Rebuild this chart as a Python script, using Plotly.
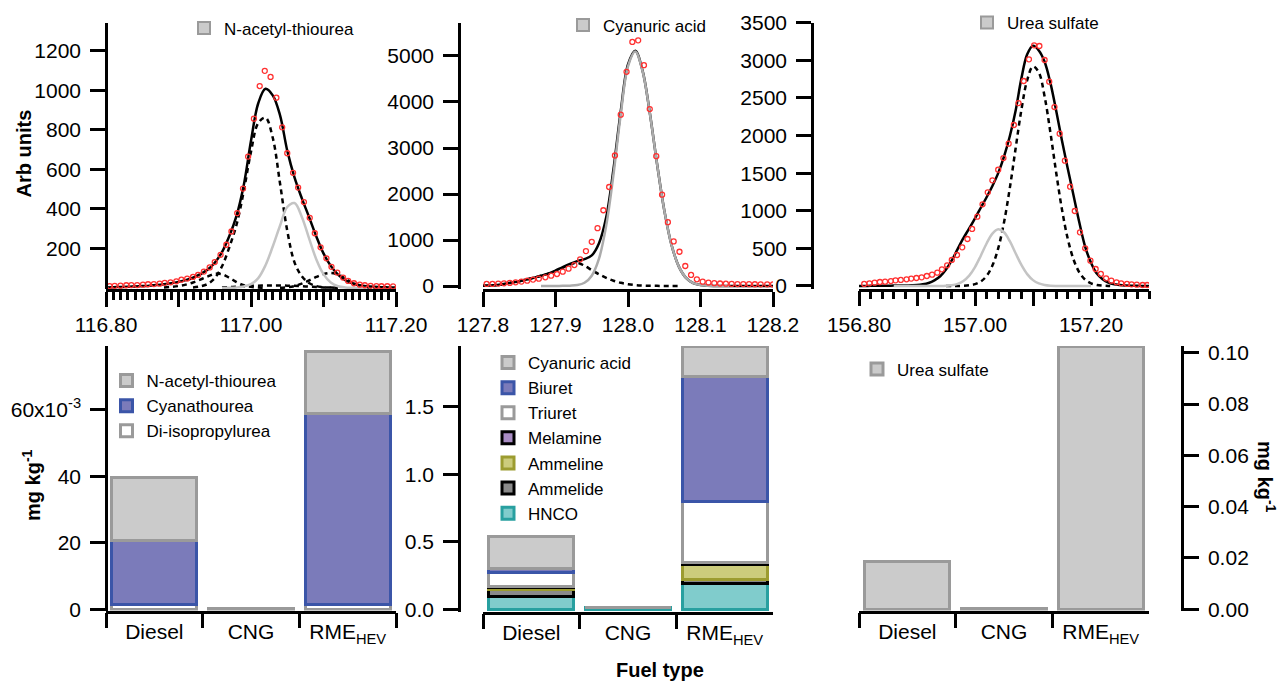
import plotly.graph_objects as go

W, H = 1288, 681

# ---------------- Top row: spectra (Arb units) ----------------
# Panel 1: N-acetyl-thiourea region
P1_MZ = [116.805, 116.812, 116.820, 116.828, 116.835, 116.843, 116.851, 116.858, 116.866, 116.874,
         116.881, 116.889, 116.897, 116.904, 116.912, 116.920, 116.927, 116.935, 116.943, 116.950,
         116.958, 116.966, 116.973, 116.981, 116.989, 116.996, 117.004, 117.012, 117.019, 117.027,
         117.035, 117.043, 117.050, 117.058, 117.065, 117.073, 117.081, 117.088, 117.096, 117.104,
         117.111, 117.119, 117.127, 117.134, 117.142, 117.150, 117.157, 117.165, 117.173, 117.180,
         117.188, 117.196]
P1_SIGNAL = [10, 11, 12, 14, 15, 15, 17, 19, 20, 22,
             26, 29, 34, 42, 48, 56, 66, 83, 104, 131,
             168, 219, 286, 379, 503, 665, 857, 1022, 1099, 1068,
             963, 813, 682, 583, 508, 435, 355, 277, 206, 150,
             107, 78, 53, 36, 24, 17, 14, 11, 10, 9,
             9, 8]
P1_GRID = [116.80, 116.81, 116.82, 116.83, 116.84, 116.85, 116.86, 116.87, 116.88, 116.89,
           116.90, 116.91, 116.92, 116.93, 116.94, 116.95, 116.96, 116.97, 116.98, 116.99,
           117.00, 117.01, 117.02, 117.03, 117.04, 117.05, 117.06, 117.07, 117.08, 117.09,
           117.10, 117.11, 117.12, 117.13, 117.14, 117.15, 117.16, 117.17, 117.18, 117.19,
           117.20]
P1_FIT = [3, 4, 5, 6, 8, 10, 12, 15, 19, 24,
          31, 40, 52, 70, 92, 128, 182, 262, 365, 520,
          745, 935, 1008, 975, 875, 695, 560, 455, 360, 262,
          175, 112, 68, 40, 24, 14, 9, 6, 4, 3,
          2]
P1_PEAK_MAIN = [3, 8, 20, 50, 110, 205, 320, 490, 690, 835, 862, 760, 530, 290, 130, 60, 25, 10, 4, 2, 1]   # 116.92-117.12
P1_PEAK_LEFT = [3, 6, 10, 17, 28, 42, 58, 72, 70, 52, 30, 14, 6, 2, 1]                                    # 116.88-117.02
P1_PEAK_RIGHT = [1, 4, 10, 22, 38, 56, 70, 76, 68, 48, 26, 11, 4, 2, 1]                                   # 117.04-117.18
P1_PEAK_FLAT = [2, 4, 7, 9, 11, 12, 13, 13, 13, 12, 11, 9, 7, 5, 3, 2, 1]                                 # 116.96-117.12
P1_COMPOUND = [0, 1, 3, 8, 20, 50, 115, 210, 315, 410, 430, 361, 252, 146, 70, 28, 9, 3, 1, 0, 0]        # 116.96-117.16

# Panel 2: Cyanuric acid region
P2_MZ = [127.805, 127.813, 127.821, 127.829, 127.837, 127.845, 127.853, 127.861, 127.869, 127.877,
         127.886, 127.894, 127.902, 127.910, 127.918, 127.926, 127.934, 127.942, 127.950, 127.958,
         127.966, 127.974, 127.982, 127.990, 127.998, 128.006, 128.014, 128.022, 128.030, 128.039,
         128.047, 128.055, 128.063, 128.071, 128.079, 128.087, 128.095, 128.103, 128.111, 128.119,
         128.127, 128.135, 128.143, 128.151, 128.159, 128.167, 128.175, 128.183, 128.192, 128.200]
P2_SIGNAL = [45, 45, 52, 59, 67, 81, 96, 117, 139, 160,
             189, 225, 261, 312, 377, 456, 579, 759, 961, 1257,
             1647, 2152, 2837, 3725, 4656, 5305, 5340, 4800, 3847, 2823,
             1986, 1387, 969, 745, 435, 240, 146, 95, 75, 62,
             55, 50, 46, 43, 41, 40, 38, 37, 36, 35]
P2_GRID = [127.80, 127.81, 127.82, 127.83, 127.84, 127.85, 127.86, 127.87, 127.88, 127.89,
           127.90, 127.91, 127.92, 127.93, 127.94, 127.95, 127.96, 127.97, 127.98, 127.99,
           128.00, 128.01, 128.02, 128.03, 128.04, 128.05, 128.06, 128.07, 128.08, 128.09,
           128.10, 128.11, 128.12, 128.13, 128.14, 128.15, 128.16, 128.17, 128.18, 128.19,
           128.20]
P2_FIT = [5, 10, 22, 45, 75, 105, 140, 180, 222, 270,
          335, 410, 480, 540, 585, 665, 930, 1500, 2545, 3800,
          4815, 5115, 4686, 3771, 2663, 1650, 895, 427, 178, 65,
          21, 6, 2, 1, 0, 0, 0, 0, 0, 0,
          0]
P2_PEAK_SIDE = [5, 10, 22, 45, 75, 105, 140, 180, 222, 268,
                325, 395, 470, 505, 440, 345, 255, 178, 115, 70,
                40, 20, 10, 5, 3, 2, 1, 1]                                                               # 127.80-128.07
P2_COMPOUND = [0, 1, 2, 4, 8, 20, 70, 224, 595, 1318,
               2429, 3731, 4774, 5095, 4676, 3766, 2660, 1648, 894, 426,
               178, 65, 21, 6, 2, 1, 0]                                                                 # 127.88-128.14

# Panel 3: Urea sulfate region
P3_MZ = [156.809, 156.818, 156.827, 156.836, 156.845, 156.855, 156.863, 156.872, 156.882, 156.890,
         156.899, 156.908, 156.917, 156.926, 156.935, 156.943, 156.952, 156.960, 156.969, 156.978,
         156.987, 156.995, 157.004, 157.013, 157.022, 157.030, 157.040, 157.049, 157.058, 157.067,
         157.075, 157.084, 157.093, 157.102, 157.111, 157.120, 157.128, 157.137, 157.146, 157.155,
         157.164, 157.172, 157.181, 157.190, 157.199, 157.208, 157.217, 157.226, 157.235, 157.244,
         157.252, 157.262, 157.270, 157.279, 157.289, 157.297]
P3_SIGNAL = [27, 35, 44, 53, 58, 66, 75, 80, 89, 98,
             106, 115, 133, 151, 177, 221, 275, 346, 412, 514,
             625, 758, 922, 1086, 1245, 1404, 1546, 1701, 1892, 2140,
             2432, 2725, 3013, 3199, 3190, 3004, 2716, 2379, 2025, 1666,
             1320, 997, 713, 501, 337, 226, 160, 102, 71, 49,
             35, 27, 22, 18, 13, 13]
P3_GRID = [156.80, 156.81, 156.82, 156.83, 156.84, 156.85, 156.86, 156.87, 156.88, 156.89,
           156.90, 156.91, 156.92, 156.93, 156.94, 156.95, 156.96, 156.97, 156.98, 156.99,
           157.00, 157.01, 157.02, 157.03, 157.04, 157.05, 157.06, 157.07, 157.08, 157.09,
           157.10, 157.11, 157.12, 157.13, 157.14, 157.15, 157.16, 157.17, 157.18, 157.19,
           157.20, 157.21, 157.22, 157.23, 157.24, 157.25, 157.26, 157.27, 157.28, 157.29,
           157.30]
P3_FIT = [1, 1, 2, 2, 3, 4, 5, 6, 7, 9,
          12, 22, 40, 75, 130, 220, 340, 490, 635, 765,
          900, 1040, 1180, 1330, 1500, 1720, 1990, 2330, 2760, 3080,
          3195, 3130, 2980, 2700, 2330, 1930, 1560, 1200, 840, 520,
          310, 165, 90, 45, 22, 12, 7, 4, 2, 1,
          0]
P3_PEAK_MAIN = [0, 0, 1, 3, 9, 25, 60, 133, 271, 500,
                845, 1301, 1827, 2342, 2737, 2919, 2840, 2520, 2040, 1506,
                1015, 624, 350, 179, 84, 36, 14, 5, 1, 0]                                                # 156.95-157.24
P3_COMPOUND = [0, 0, 0, 0, 0, 0, 0, 0, 0, 3,
               10, 28, 67, 138, 252, 403, 565, 696, 753, 714,
               595, 435, 280, 158, 78, 34, 13, 4, 1, 0,
               0, 0, 0, 0, 0]                                                                            # 156.86-157.20

# ---------------- Bottom row: concentrations (mg kg-1) ----------------
FUEL = ["Diesel", "CNG", "RME<sub>HEV</sub>"]
DI_ISOPROPYLUREA = [0.0015, 0.0003, 0.0015]
CYANATHOUREA = [0.0193, 0.0, 0.0574]
N_ACETYL_THIOUREA = [0.0189, 0.0, 0.0186]

HNCO = [0.093, 0.010, 0.195]
AMMELIDE = [0.055, 0.0, 0.025]
AMMELINE = [0.012, 0.0, 0.113]
MELAMINE = [0.006, 0.0, 0.015]
TRIURET = [0.110, 0.0, 0.455]
BIURET = [0.030, 0.0, 0.920]
CYANURIC_ACID = [0.232, 0.0, 0.225]

UREA_SULFATE = [0.0186, 0.0004, 0.1025]

# ---------------- styles ----------------
STYLE = {
    "gray": ("#cbcbcb", "#9a9a9a"),
    "blue": ("#7b7bba", "#3b55a8"),
    "white": ("#ffffff", "#9a9a9a"),
    "melamine": ("#a98cc4", "#000000"),
    "ammeline": ("#cccc7c", "#9c9c30"),
    "ammelide": ("#8a8a8a", "#000000"),
    "hnco": ("#80cccc", "#28a0a0"),
}
FIT_COLOR = "#000000"
COMP_COLOR = "#c4c4c4"
DATA_COLOR = "#ff3030"
FONT = "Liberation Sans, Arial, Helvetica, sans-serif"

fig = go.Figure()


def spectrum(xa, ya, grid, fit, comps, comp_mz, compound, signal_mz, signal, comp_color, legend, name):
    fig.add_trace(go.Scatter(x=grid, y=fit, mode="lines", line=dict(color=FIT_COLOR, width=2.5, shape="spline", smoothing=1),
                             xaxis=xa, yaxis=ya, showlegend=False, hoverinfo="skip"))
    for cx, cy in comps:
        fig.add_trace(go.Scatter(x=cx, y=cy, mode="lines",
                                 line=dict(color=FIT_COLOR, width=2.5, dash="5px,4px", shape="spline", smoothing=1),
                                 xaxis=xa, yaxis=ya, showlegend=False, hoverinfo="skip"))
    fig.add_trace(go.Scatter(x=comp_mz, y=compound, mode="lines",
                             line=dict(color=comp_color, width=2.5, shape="spline", smoothing=1),
                             xaxis=xa, yaxis=ya, showlegend=False, hoverinfo="skip"))
    fig.add_trace(go.Scatter(x=signal_mz, y=signal, mode="markers",
                             marker=dict(symbol="circle-open", size=5, color=DATA_COLOR, line=dict(width=1.3, color=DATA_COLOR)),
                             xaxis=xa, yaxis=ya, showlegend=False, hoverinfo="skip"))
    fill, edge = STYLE["gray"]
    fig.add_trace(go.Bar(x=[None], y=[None], name=name, marker=dict(color=fill, line=dict(color=edge, width=2)),
                         xaxis=xa, yaxis=ya, legend=legend, showlegend=True))


spectrum("x", "y", P1_GRID, P1_FIT,
         [(P1_GRID[12:33], P1_PEAK_MAIN), (P1_GRID[8:23], P1_PEAK_LEFT),
          (P1_GRID[24:39], P1_PEAK_RIGHT), (P1_GRID[16:33], P1_PEAK_FLAT)],
         P1_GRID[16:37], P1_COMPOUND, P1_MZ, P1_SIGNAL, COMP_COLOR, "legend", "N-acetyl-thiourea")
spectrum("x2", "y2", P2_GRID, P2_FIT,
         [(P2_GRID[0:28], P2_PEAK_SIDE)],
         P2_GRID[8:35], P2_COMPOUND, P2_MZ, P2_SIGNAL, "#ababab", "legend2", "Cyanuric acid")
spectrum("x3", "y3", P3_GRID, P3_FIT,
         [(P3_GRID[15:45], P3_PEAK_MAIN)],
         P3_GRID[6:41], P3_COMPOUND, P3_MZ, P3_SIGNAL, COMP_COLOR, "legend3", "Urea sulfate")


def bar(xa, ya, values, name, style, legend):
    fill, edge = STYLE[style]
    fig.add_trace(go.Bar(x=FUEL, y=values, name=name, width=0.88, cliponaxis=False,
                         marker=dict(color=fill, line=dict(color=edge, width=3)),
                         xaxis=xa, yaxis=ya, legend=legend, hoverinfo="skip"))


bar("x4", "y4", DI_ISOPROPYLUREA, "Di-isopropylurea", "white", "legend4")
bar("x4", "y4", CYANATHOUREA, "Cyanathourea", "blue", "legend4")
bar("x4", "y4", N_ACETYL_THIOUREA, "N-acetyl-thiourea", "gray", "legend4")

bar("x5", "y5", HNCO, "HNCO", "hnco", "legend5")
bar("x5", "y5", AMMELIDE, "Ammelide", "ammelide", "legend5")
bar("x5", "y5", AMMELINE, "Ammeline", "ammeline", "legend5")
bar("x5", "y5", MELAMINE, "Melamine", "melamine", "legend5")
bar("x5", "y5", TRIURET, "Triuret", "white", "legend5")
bar("x5", "y5", BIURET, "Biuret", "blue", "legend5")
bar("x5", "y5", CYANURIC_ACID, "Cyanuric acid", "gray", "legend5")

bar("x6", "y6", UREA_SULFATE, "Urea sulfate", "gray", "legend6")

# ---------------- axes ----------------
AX = dict(showline=True, linecolor="black", linewidth=2.5, ticks="outside", tickcolor="black",
          tickwidth=2.5, ticklen=15, showgrid=False, zeroline=False, automargin=False,
          tickfont=dict(size=21, color="black", family=FONT), fixedrange=True)
YAX = dict(AX, ticklabelstandoff=5)
CAX = dict(AX, type="category", tickson="boundaries", ticklabelstandoff=1)
MINOR = dict(ticks="outside", ticklen=8, tickwidth=2.5, tickcolor="black", showgrid=False)


def fx(p):
    return p / W


def fy(p):
    return 1 - p / H


TOP_DOM = [fy(289), fy(23)]
COLS = [[fx(106), fx(396)], [fx(483), fx(773)], [fx(859), fx(1149)]]

layout = dict(
    xaxis=dict(AX, domain=COLS[0], anchor="y", range=[116.8, 117.2],
               tickmode="array", tickvals=[116.8, 116.9, 117.0, 117.1, 117.2],
               ticktext=["116.80", "", "117.00", "", "117.20"],
               minor=dict(MINOR, tickmode="linear", tick0=116.8, dtick=0.01)),
    yaxis=dict(YAX, domain=TOP_DOM, anchor="free", position=fx(106), range=[-5, 1341],
               tickmode="array", tickvals=[200, 400, 600, 800, 1000, 1200]),
    xaxis2=dict(AX, domain=COLS[1], anchor="y2", range=[127.8, 128.2],
                tickmode="array", tickvals=[127.8, 127.9, 128.0, 128.1, 128.2],
                ticktext=["127.8", "127.9", "128.0", "128.1", "128.2"]),
    yaxis2=dict(YAX, domain=TOP_DOM, anchor="free", position=fx(459), range=[-65, 5717],
                tickmode="array", tickvals=[0, 1000, 2000, 3000, 4000, 5000]),
    xaxis3=dict(AX, domain=COLS[2], anchor="y3", range=[156.8, 157.3],
                tickmode="array", tickvals=[156.8, 156.9, 157.0, 157.1, 157.2],
                ticktext=["156.80", "", "157.00", "", "157.20"],
                minor=dict(MINOR, tickmode="linear", tick0=156.8, dtick=0.02)),
    yaxis3=dict(YAX, domain=[fy(288.7), fy(22.7)], anchor="free", position=fx(812), range=[-36, 3500],
                tickmode="array", tickvals=[0, 500, 1000, 1500, 2000, 2500, 3000, 3500]),
    xaxis4=dict(CAX, domain=COLS[0], anchor="y4"),
    yaxis4=dict(YAX, domain=[fy(610.5), fy(346)], anchor="free", position=fx(106), range=[-0.00036, 0.0791],
                tickmode="array", tickvals=[0, 0.02, 0.04, 0.06], ticktext=["0", "20", "40", "60x10<sup>-3</sup>"]),
    xaxis5=dict(CAX, domain=COLS[1], anchor="y5"),
    yaxis5=dict(YAX, domain=[fy(611.5), fy(346)], anchor="free", position=fx(459), range=[-0.016, 1.952],
                tickmode="array", tickvals=[0, 0.5, 1.0, 1.5], ticktext=["0.0", "0.5", "1.0", "1.5"]),
    xaxis6=dict(CAX, domain=COLS[2], anchor="y6"),
    yaxis6=dict(YAX, domain=[fy(610.5), fy(346)], anchor="free", position=fx(1182), side="right",
                range=[-0.00047, 0.1026], tickmode="array",
                tickvals=[0, 0.02, 0.04, 0.06, 0.08, 0.10],
                ticktext=["0.00", "0.02", "0.04", "0.06", "0.08", "0.10"]),
)

LEG = dict(xanchor="left", yanchor="top", bgcolor="rgba(0,0,0,0)", borderwidth=0,
           font=dict(size=17, color="black", family=FONT))
layout.update(
    legend=dict(LEG, x=fx(184), y=fy(10.5)),
    legend2=dict(LEG, x=fx(563), y=fy(7.5)),
    legend3=dict(LEG, x=fx(967), y=fy(5)),
    legend4=dict(LEG, x=fx(106.5), y=fy(363), traceorder="reversed"),
    legend5=dict(LEG, x=fx(488), y=fy(345), traceorder="reversed"),
    legend6=dict(LEG, x=fx(857), y=fy(351.5)),
)

ANN = dict(xref="paper", yref="paper", showarrow=False, xanchor="center", yanchor="middle",
           font=dict(size=20, color="black", family=FONT))
annotations = [
    dict(ANN, text="<b>Arb units</b>", x=fx(23.5), y=fy(154), textangle=-90),
    dict(ANN, text="<b>mg kg<sup>-1</sup></b>", x=fx(31), y=fy(485), textangle=-90),
    dict(ANN, text="<b>mg kg<sup>-1</sup></b>", x=fx(1267), y=fy(477), textangle=90),
    dict(ANN, text="<b>Fuel type</b>", x=fx(660), y=fy(670)),
]

fig.update_layout(
    **layout,
    annotations=annotations,
    barmode="stack",
    width=W, height=H, autosize=False,
    margin=dict(l=0, r=0, t=0, b=0, autoexpand=False),
    paper_bgcolor="white", plot_bgcolor="white",
    font=dict(family=FONT, color="black"),
    hovermode=False,
)

fig.write_html("out.html", config={"displayModeBar": False},
               post_script="document.body.style.margin='0';document.body.style.overflow='hidden';")
